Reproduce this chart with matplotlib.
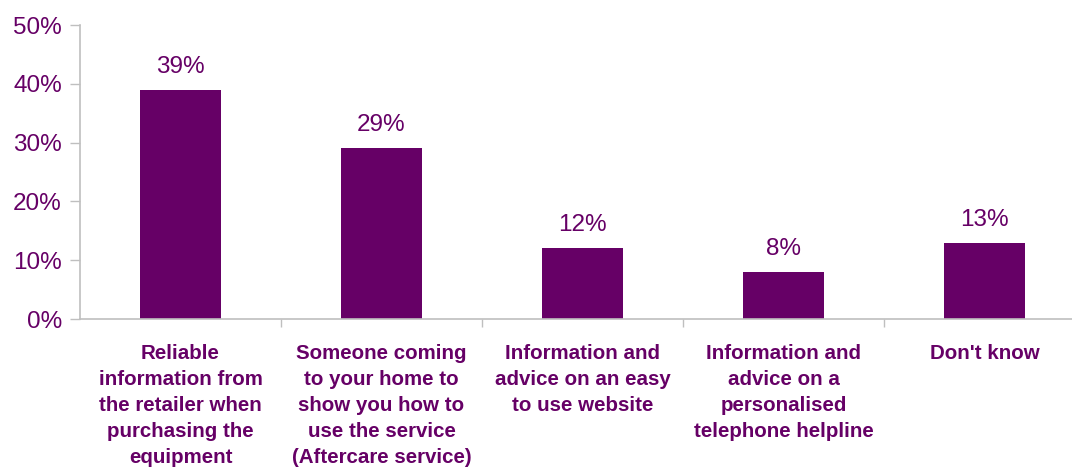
import matplotlib
matplotlib.use("Agg")
import matplotlib.pyplot as plt

categories = [
    "Reliable\ninformation from\nthe retailer when\npurchasing the\nequipment",
    "Someone coming\nto your home to\nshow you how to\nuse the service\n(Aftercare service)",
    "Information and\nadvice on an easy\nto use website",
    "Information and\nadvice on a\npersonalised\ntelephone helpline",
    "Don't know",
]
values = [39, 29, 12, 8, 13]
yticks = [0, 10, 20, 30, 40, 50]

purple = "#660066"
grey = "#BFBFBF"

plt.rcParams["font.family"] = ["Liberation Sans", "DejaVu Sans"]

fig = plt.figure(figsize=(10.72, 4.69), dpi=100)
ax = fig.add_axes([80 / 1072, 1 - 319 / 469, 1005 / 1072, 294 / 469])

x = list(range(len(values)))
bars = ax.bar(x, values, width=0.4, color=purple, zorder=2)

ax.set_xlim(-0.5, len(values) - 0.5)
ax.set_ylim(0, 50)
ax.set_yticks(yticks)
ax.set_yticklabels([f"{v}%" for v in yticks], color=purple, fontsize=17.5)
ax.tick_params(axis="y", length=7, width=1, color=grey, pad=6)

# category ticks sit on the boundaries between groups
ax.set_xticks([i + 0.5 for i in range(len(values) - 1)])
ax.set_xticklabels([])
ax.tick_params(axis="x", length=6, width=1, color=grey)

for i, lab in enumerate(categories):
    ax.annotate(lab, xy=(i, 0), xycoords=("data", "axes fraction"),
                xytext=(0, -25), textcoords="offset pixels",
                ha="center", va="top", fontsize=14.8, fontweight="bold",
                color=purple, linespacing=1.47)

for i, v in enumerate(values):
    ax.annotate(f"{v}%", xy=(i, v), xytext=(0, 12), textcoords="offset pixels",
                ha="center", va="bottom", fontsize=17.5, color=purple)

for side in ("top", "right"):
    ax.spines[side].set_visible(False)
for side in ("left", "bottom"):
    ax.spines[side].set_color(grey)
    ax.spines[side].set_linewidth(1.2)

fig.savefig("out.png", dpi=100)
